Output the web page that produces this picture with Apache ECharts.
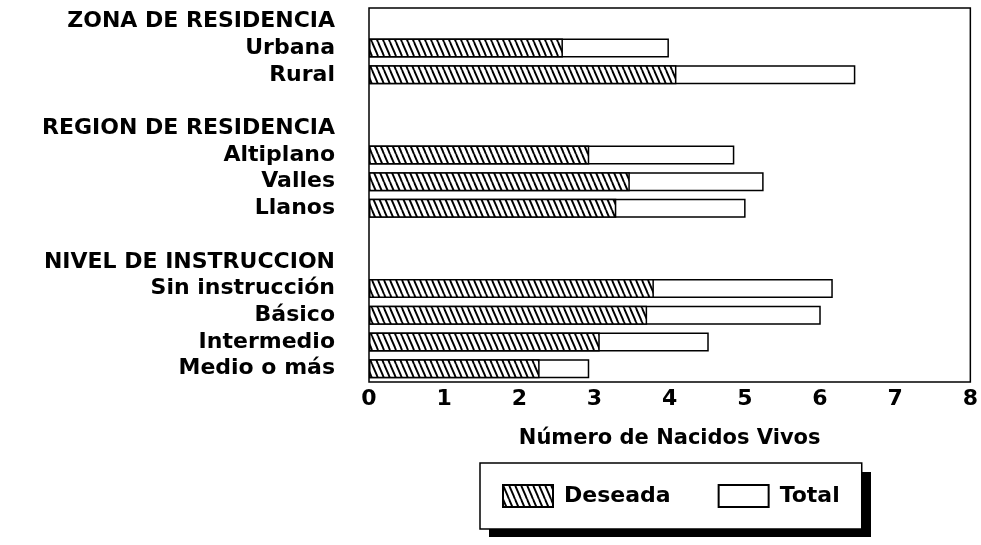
<!DOCTYPE html>
<html>
<head>
<meta charset="utf-8">
<script src="https://cdn.jsdelivr.net/npm/echarts@6/dist/echarts.min.js"></script>
<style>
html,body{margin:0;padding:0;background:#fff;}
#chart{width:981px;height:545px;}
</style>
</head>
<body>
<div id="chart"></div>
<script>
var categories = ['ZONA DE RESIDENCIA','Urbana','Rural','','REGION DE RESIDENCIA','Altiplano','Valles','Llanos','','NIVEL DE INSTRUCCION','Sin instrucción','Básico','Intermedio','Medio o más'];
var deseada = [null,2.58,4.09,null,null,2.93,3.47,3.29,null,null,3.79,3.70,3.07,2.27];
var total   = [null,3.99,6.47,null,null,4.86,5.25,5.01,null,null,6.17,6.01,4.52,2.93];
var xTicks = [0,1,2,3,4,5,6,7,8];
var seriesNames = ['Deseada','Total'];
var axisTitle = 'Número de Nacidos Vivos';

function hatch(){
  var c = document.createElement('canvas');
  c.width = 6; c.height = 14;
  var ctx = c.getContext('2d');
  ctx.fillStyle = '#fff';
  ctx.fillRect(0,0,6,14);
  ctx.strokeStyle = '#000';
  ctx.lineWidth = 1.9;
  [-6,0,6].forEach(function(o){
    ctx.beginPath();
    ctx.moveTo(o,0);
    ctx.lineTo(o+6,14);
    ctx.stroke();
  });
  return c;
}
var pattern = {image: hatch(), repeat: 'repeat'};
var FONT = '"DejaVu Sans", sans-serif';

var chart = echarts.init(document.getElementById('chart'), null, {renderer:'canvas'});
chart.setOption({
  animation: false,
  backgroundColor: '#fff',
  grid: {left: 369, right: 10, top: 8, bottom: 163, show: true, borderColor: '#000', borderWidth: 1.5, containLabel: false},
  graphic: [{
    type: 'rect', z: 1, silent: true,
    shape: {x: 489, y: 472, width: 382, height: 65},
    style: {fill: '#000'}
  }],
  legend: {
    left: 480, top: 463, z: 5,
    padding: [21, 22, 21, 22],
    itemGap: 47, itemWidth: 50, itemHeight: 22, icon: 'rect',
    backgroundColor: '#fff', borderColor: '#000', borderWidth: 1.5,
    data: seriesNames,
    textStyle: {fontFamily: FONT, fontWeight: 'bold', fontSize: 22, color: '#000', padding: [0,0,0,6]}
  },
  xAxis: {
    type: 'value', min: xTicks[0], max: xTicks[xTicks.length-1], interval: 1,
    name: axisTitle, nameLocation: 'middle', nameGap: 46,
    nameTextStyle: {fontFamily: FONT, fontWeight: 'bold', fontSize: 21, color: '#000'},
    axisLine: {show: false}, axisTick: {show: false}, splitLine: {show: false},
    axisLabel: {margin: 6, fontFamily: FONT, fontWeight: 'bold', fontSize: 22, color: '#000'}
  },
  yAxis: {
    type: 'category', data: categories, inverse: true,
    axisLine: {show: false}, axisTick: {show: false}, splitLine: {show: false},
    axisLabel: {margin: 34, fontFamily: FONT, fontWeight: 'bold', fontSize: 22, color: '#000', interval: 0}
  },
  series: [
    {name: seriesNames[1], type: 'bar', data: total, barWidth: 19, z: 2,
     itemStyle: {color: '#fff', borderColor: '#000', borderWidth: 1.5}},
    {name: seriesNames[0], type: 'bar', data: deseada, barWidth: 19, barGap: '-100%', z: 3,
     itemStyle: {color: pattern, borderColor: '#000', borderWidth: 1.5}}
  ]
});
</script>
</body>
</html>
